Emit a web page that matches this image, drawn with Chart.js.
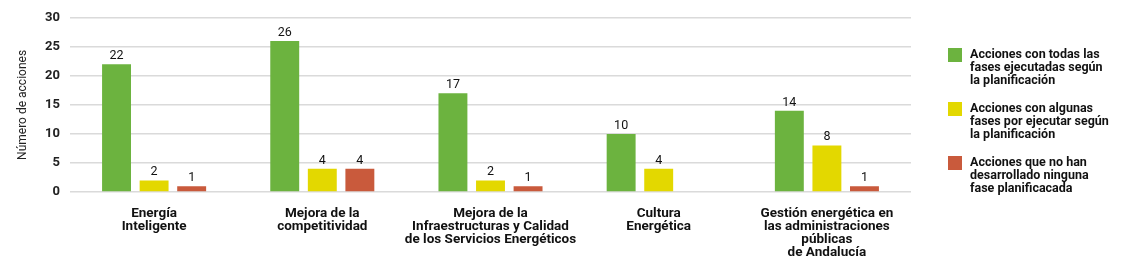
<!DOCTYPE html>
<html>
<head>
<meta charset="utf-8">
<script src="https://cdn.jsdelivr.net/npm/chart.js@4/dist/chart.umd.min.js"></script>
<style>
  html, body { margin: 0; padding: 0; background: #fff; }
  #wrap { width: 1141px; height: 273px; position: relative; }
</style>
</head>
<body>
<div id="wrap"><canvas id="myChart"></canvas></div>
<script>
// Categories (multi-line x labels)
var categories = [
  ['Energía', 'Inteligente'],
  ['Mejora de la', 'competitividad'],
  ['Mejora de la', 'Infraestructuras y Calidad', 'de los Servicios Energéticos'],
  ['Cultura', 'Energética'],
  ['Gestión energética en', 'las administraciones', 'públicas', 'de Andalucía']
];

// Series
var seriesLabels = [
  ['Acciones con todas las', 'fases ejecutadas según', 'la planificación'],
  ['Acciones con algunas', 'fases por ejecutar según', 'la planificación'],
  ['Acciones que no han', 'desarrollado ninguna', 'fase planificacada']
];
var ejecutadas = [22, 26, 17, 10, 14];
var porEjecutar = [2, 4, 2, 4, 8];
var sinDesarrollar = [1, 4, 1, 0, 1];

var yTicks = [0, 5, 10, 15, 20, 25, 30];
var yTitle = 'Número de acciones';

var colors = ['#6cb33f', '#e3d800', '#c95a3c'];
var fontFamily = 'Roboto, "Noto Sans", sans-serif';

// Draws the value on top of every non-zero bar
var valueLabels = {
  id: 'valueLabels',
  afterDatasetsDraw: function(chart) {
    var ctx = chart.ctx;
    ctx.save();
    ctx.font = '12.5px ' + fontFamily;
    ctx.fillStyle = '#111';
    ctx.textAlign = 'center';
    ctx.textBaseline = 'bottom';
    chart.data.datasets.forEach(function(ds, i) {
      var meta = chart.getDatasetMeta(i);
      meta.data.forEach(function(bar, j) {
        if (ds.data[j] === 0) return;
        ctx.fillText(ds.data[j], bar.x, bar.y - 2);
      });
    });
    ctx.restore();
  }
};

// Legend on the right, with multi-line texts
var sideLegend = {
  id: 'sideLegend',
  afterDraw: function(chart) {
    var ctx = chart.ctx;
    var x = 948, y = 55, lineH = 13, itemGap = 54;
    ctx.save();
    ctx.font = 'bold 12.5px ' + fontFamily;
    ctx.textBaseline = 'middle';
    chart.data.datasets.forEach(function(ds, i) {
      var top = y + i * itemGap;
      ctx.fillStyle = ds.backgroundColor;
      ctx.fillRect(x, top - 7, 14, 14);
      ctx.fillStyle = '#111';
      ds.label.forEach(function(line, k) {
        ctx.fillText(line, x + 22, top + k * lineH);
      });
    });
    ctx.restore();
  }
};

var ctx = document.getElementById('myChart').getContext('2d');

var myChart = new Chart(ctx, {
  type: 'bar',
  data: {
    labels: categories,
    datasets: [
      { label: seriesLabels[0], data: ejecutadas, backgroundColor: colors[0] },
      { label: seriesLabels[1], data: porEjecutar, backgroundColor: colors[1] },
      { label: seriesLabels[2], data: sinDesarrollar, backgroundColor: colors[2] }
    ]
  },
  options: {
    responsive: true,
    maintainAspectRatio: false,
    animation: false,
    categoryPercentage: 0.67,
    barPercentage: 0.77,
    layout: { padding: { top: 10, right: 230, left: 16, bottom: 0 } },
    plugins: {
      legend: { display: false },
      tooltip: { enabled: false }
    },
    scales: {
      x: {
        grid: { display: false },
        border: { display: false },
        ticks: {
          color: '#111',
          padding: 7,
          maxRotation: 0,
          autoSkip: false,
          font: { family: fontFamily, size: 13.5, weight: 'bold', lineHeight: 0.97 }
        },
        afterFit: function(scale) { scale.height = 81; }
      },
      y: {
        min: 0,
        max: 30,
        afterBuildTicks: function(scale) {
          scale.ticks = yTicks.map(function(v) { return { value: v }; });
        },
        grid: { color: '#dadada', lineWidth: 1.5, drawTicks: false },
        border: { display: false },
        ticks: {
          color: '#222',
          padding: 10,
          font: { family: fontFamily, size: 13, weight: 'bold' }
        },
        title: {
          display: true,
          text: yTitle,
          color: '#222',
          font: { family: fontFamily, size: 12 },
          padding: { top: 0, bottom: 4 }
        },
        afterFit: function(scale) { scale.width = 54; }
      }
    }
  },
  plugins: [valueLabels, sideLegend]
});
</script>
</body>
</html>
